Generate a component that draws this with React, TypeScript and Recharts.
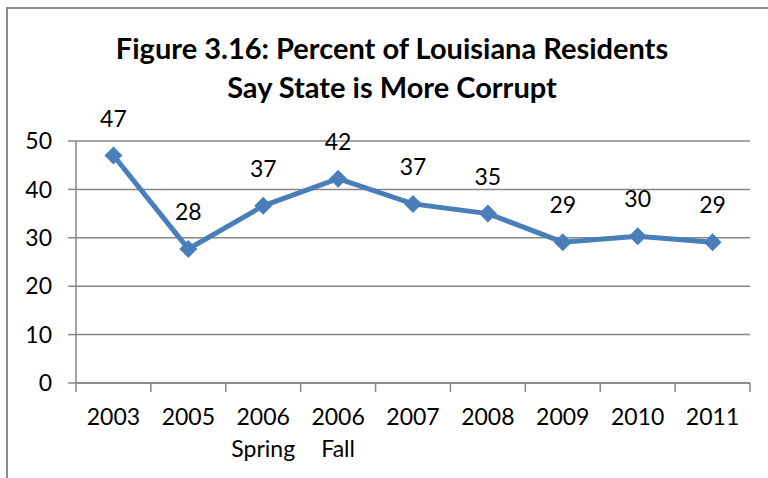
import { CartesianGrid, LabelList, Line, LineChart, XAxis, YAxis } from "recharts"

const categories = ["2003", "2005", "2006\nSpring", "2006\nFall", "2007", "2008", "2009", "2010", "2011"]
const corruptPct = [47, 27.7, 36.6, 42.2, 37, 35, 29.1, 30.3, 29.1]
const yTicks = [0, 10, 20, 30, 40, 50]

const data = categories.map((name, i) => ({ name, value: corruptPct[i] }))

const W = 768
const H = 478
const PLOT_LEFT = 76
const PLOT_RIGHT = 18
const BAND = (W - PLOT_LEFT - PLOT_RIGHT) / categories.length
const GRID = "#868686"
const BLUE = "#4A7EBB"
const FONT = "Lato, 'Open Sans', sans-serif"

function XTick(props: any) {
  const { x, y, payload, index } = props
  const lines = String(payload.value).split("\n")
  const left = x - BAND / 2
  const right = x + BAND / 2
  return (
    <g>
      <line x1={left} y1={y} x2={left} y2={y + 9} stroke={GRID} strokeWidth={1.5} />
      {index === categories.length - 1 && (
        <line x1={right} y1={y} x2={right} y2={y + 9} stroke={GRID} strokeWidth={1.5} />
      )}
      {lines.map((t, i) => (
        <text
          key={i}
          x={x}
          y={y + 42 + i * 32}
          textAnchor="middle"
          fill="#000"
          fontSize={23}
          fontFamily={FONT}
        >
          {t}
        </text>
      ))}
    </g>
  )
}

function Diamond(props: any) {
  const { cx, cy } = props
  if (cx == null || cy == null) return null
  const r = 9
  return (
    <polygon
      points={`${cx},${cy - r} ${cx + r},${cy} ${cx},${cy + r} ${cx - r},${cy}`}
      fill={BLUE}
    />
  )
}

function ValueLabel(props: any) {
  const { x, y, value } = props
  return (
    <text x={x} y={y - 29} textAnchor="middle" fill="#000" fontSize={23} fontFamily={FONT}>
      {Math.round(value)}
    </text>
  )
}

export default function App() {
  return (
    <div
      style={{
        position: "absolute",
        left: 0,
        top: 0,
        width: W,
        height: H,
        overflow: "hidden",
        background: "#fff",
      }}
    >
      {/* chart frame, runs off the right and bottom edges */}
      <div
        style={{
          position: "absolute",
          left: 6,
          top: 7,
          width: 820,
          height: 520,
          border: "2px solid #8c8c8c",
        }}
      />
      <div
        style={{
          position: "absolute",
          left: 7,
          top: 28,
          width: 770,
          textAlign: "center",
          fontFamily: FONT,
          fontWeight: 700,
          fontSize: 29,
          lineHeight: "39px",
          color: "#000",
        }}
      >
        Figure 3.16: Percent of Louisiana Residents
        <br />
        Say State is More Corrupt
      </div>
      <div style={{ position: "absolute", left: 0, top: 0 }}>
        <LineChart
          width={W}
          height={H}
          data={data}
          margin={{ top: 141, right: PLOT_RIGHT, bottom: 25, left: 16 }}
        >
          <CartesianGrid vertical={false} stroke={GRID} strokeWidth={1.5} />
          <XAxis
            dataKey="name"
            axisLine={{ stroke: GRID, strokeWidth: 1.5 }}
            tickLine={false}
            tickSize={0}
            tickMargin={0}
            height={70}
            interval={0}
            padding={{ left: BAND / 2, right: BAND / 2 }}
            tick={<XTick />}
          />
          <YAxis
            domain={[0, 50]}
            ticks={yTicks}
            width={60}
            tickSize={8}
            tickMargin={16}
            axisLine={{ stroke: GRID, strokeWidth: 1.5 }}
            tickLine={{ stroke: GRID, strokeWidth: 1.5 }}
            tick={{ fill: "#000", fontSize: 23, fontFamily: FONT }}
          />
          <Line
            type="linear"
            dataKey="value"
            stroke={BLUE}
            strokeWidth={5}
            dot={<Diamond />}
            activeDot={false}
            isAnimationActive={false}
          >
            <LabelList dataKey="value" content={<ValueLabel />} />
          </Line>
        </LineChart>
      </div>
    </div>
  )
}
